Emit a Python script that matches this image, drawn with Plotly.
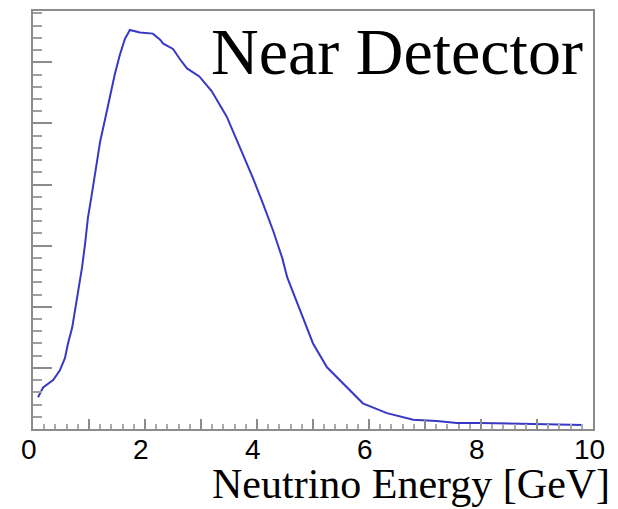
import plotly.graph_objects as go

# Neutrino energy spectrum at the Near Detector (arbitrary flux units)
energy = [0.09, 0.18, 0.36, 0.48, 0.57, 0.625, 0.70, 0.75, 0.80, 0.875, 0.93, 0.98,
          1.05, 1.11, 1.16, 1.20, 1.29, 1.375, 1.46, 1.55, 1.64, 1.73, 1.91, 2.14, 2.27,
          2.32, 2.50, 2.625, 2.75, 2.97, 3.19, 3.46, 3.57, 3.75, 3.93, 4.11, 4.29, 4.45,
          4.54, 4.77, 5.00, 5.25, 5.54, 5.89, 6.32, 6.79, 7.21, 7.57, 7.98, 8.60, 9.23, 9.82]
flux = [0.52, 0.68, 0.80, 0.96, 1.16, 1.40, 1.66, 1.94, 2.26, 2.64, 3.03, 3.45,
        3.84, 4.22, 4.54, 4.71, 5.08, 5.47, 5.80, 6.12, 6.38, 6.53, 6.49, 6.47, 6.37,
        6.31, 6.22, 6.05, 5.90, 5.77, 5.53, 5.11, 4.87, 4.50, 4.10, 3.68, 3.24, 2.80,
        2.48, 1.94, 1.40, 1.01, 0.75, 0.42, 0.26, 0.15, 0.13, 0.10, 0.10, 0.09, 0.08, 0.065]

x_tick_vals = [0, 2, 4, 6, 8, 10]
x_tick_text = ["0", "2", "4", "6", "8", "10"]
title_text = "Near Detector"
x_title = "Neutrino Energy [GeV]"

fig = go.Figure()
fig.add_trace(go.Scatter(x=energy, y=flux, mode="lines",
                         line=dict(color="#3838c4", width=2), showlegend=False))

axis_col = "#8c8c8c"
fig.update_xaxes(range=[0, 10], showgrid=False, zeroline=False,
                 showline=True, linecolor=axis_col, linewidth=2, mirror=True,
                 tickvals=list(range(0, 11)), ticktext=[""] * 11,
                 ticks="inside", ticklen=10, tickcolor=axis_col, tickwidth=2,
                 minor=dict(dtick=0.2, tick0=0, ticks="inside", ticklen=5,
                            tickcolor="#aaaaaa", tickwidth=1.5, showgrid=False))
fig.update_yaxes(range=[0, 6.84], showgrid=False, zeroline=False,
                 showline=True, linecolor=axis_col, linewidth=2, mirror=True,
                 dtick=1, tick0=0, showticklabels=False,
                 ticks="inside", ticklen=19, tickcolor=axis_col, tickwidth=2,
                 minor=dict(dtick=0.2, tick0=0, ticks="inside", ticklen=9,
                            tickcolor="#a0a0a0", tickwidth=2, showgrid=False))

# tick labels
for v, t in zip(x_tick_vals, x_tick_text):
    fig.add_annotation(x=v, y=0, xref="x", yref="paper", text=t, showarrow=False,
                       yanchor="top", xanchor="center", xshift=-4, yshift=-3,
                       font=dict(family="Liberation Sans", size=28, color="black"))

fig.add_annotation(x=1, y=1, xref="paper", yref="paper", text=title_text,
                   showarrow=False, xanchor="right", yanchor="top",
                   xshift=-8, yshift=-2,
                   font=dict(family="Liberation Serif", size=66, color="black"))
fig.add_annotation(x=1, y=0, xref="paper", yref="paper", text=x_title,
                   showarrow=False, xanchor="right", yanchor="top",
                   xshift=19, yshift=-30,
                   font=dict(family="Liberation Serif", size=42, color="black"))

fig.update_layout(width=618, height=509, plot_bgcolor="white", paper_bgcolor="white",
                  margin=dict(l=33, r=25, t=9, b=80))

fig.write_html("out.html")
